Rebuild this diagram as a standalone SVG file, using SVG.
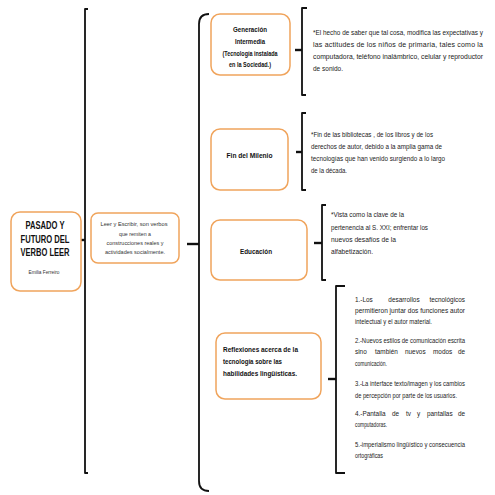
<svg xmlns="http://www.w3.org/2000/svg" width="495" height="495" viewBox="0 0 495 495">
<style>
.box{fill:#fff;stroke:#F0A45C;stroke-width:1.5}
.br{fill:none;stroke:#111;stroke-width:1.8;stroke-linejoin:round}
.tk{fill:none;stroke:#111;stroke-width:2.4}
.hb{font-family:"Liberation Sans",Arial,sans-serif;font-weight:bold;fill:#111}
.bt{font-family:"Liberation Sans",Arial,sans-serif;fill:#222;font-size:7px}
.dt{font-family:"Liberation Sans",Arial,sans-serif;fill:#222;font-size:6.7px}
.wt{font-family:"Liberation Sans",Arial,sans-serif;fill:#222;font-size:6.4px}
.st{font-family:"Liberation Sans",Arial,sans-serif;fill:#333;font-size:6.2px}
.c{text-anchor:middle}
.e{text-anchor:end}
</style>
<rect width="495" height="495" fill="#fff"/>
<g id="connectors">
  <path class="br" d="M88,9 L85,9 L85,473 L88,473"/>
  <path class="tk" d="M80,240 L85,240"/>
  <path class="br" d="M209,14 Q199,14 199,24 L199,481 Q199,491 209,491"/>
  <path class="tk" d="M187,244 L199,244"/>
  <path class="br" d="M307,8 L302,8 L302,95 L306,95"/>
  <path class="tk" d="M295,50 L302,50"/>
  <path class="br" d="M306,113 L302,113 L302,190 L306,190"/>
  <path class="tk" d="M296,152 L302,152"/>
  <path class="br" d="M326,205 L322,205 L322,280 L326,280"/>
  <path class="tk" d="M314,243 L322,243"/>
  <path class="br" d="M345,286 L336,286 L336,473 L345,473"/>
  <path class="tk" d="M328,379 L336,379"/>
</g>
<g id="n-main">
  <rect class="box" x="11" y="212" width="70" height="79" rx="9"/>
  <text class="hb c" font-size="10" x="45" y="229" textLength="39" lengthAdjust="spacingAndGlyphs">PASADO Y</text>
  <text class="hb c" font-size="10" x="45" y="242.5" textLength="49" lengthAdjust="spacingAndGlyphs">FUTURO DEL</text>
  <text class="hb c" font-size="10" x="45" y="256" textLength="49" lengthAdjust="spacingAndGlyphs">VERBO LEER</text>
  <text class="st c" font-size="5.6" x="44" y="274" textLength="31" lengthAdjust="spacingAndGlyphs">Emilia Ferreiro</text>
</g>
<g id="n-leer">
  <rect class="box" x="91" y="213" width="88" height="50" rx="7"/>
  <text class="st c" x="134" y="226" textLength="67" lengthAdjust="spacingAndGlyphs">Leer y Escribir, son verbos</text>
  <text class="st c" x="135" y="235.5" textLength="32" lengthAdjust="spacingAndGlyphs">que remiten a</text>
  <text class="st c" x="135" y="244.5" textLength="57" lengthAdjust="spacingAndGlyphs">construcciones reales y</text>
  <text class="st c" x="135" y="254" textLength="60" lengthAdjust="spacingAndGlyphs">actividades socialmente.</text>
</g>
<g id="n-generacion">
  <rect class="box" x="211" y="14" width="79" height="61" rx="9"/>
  <text class="hb c" font-size="7.5" x="250" y="31.5" textLength="34" lengthAdjust="spacingAndGlyphs">Generación</text>
  <text class="hb c" font-size="7.5" x="250" y="43.5" textLength="30" lengthAdjust="spacingAndGlyphs">Intermedia</text>
  <text class="hb c" font-size="7.5" x="250" y="55.5" textLength="55" lengthAdjust="spacingAndGlyphs">(Tecnología instalada</text>
  <text class="hb c" font-size="7.5" x="250" y="67" textLength="42" lengthAdjust="spacingAndGlyphs">en la Sociedad.)</text>
</g>
<g id="t-generacion">
  <text class="bt" font-size="6.6" x="313" y="35" textLength="170" lengthAdjust="spacingAndGlyphs">*El hecho de saber que tal cosa, modifica las expectativas y</text>
  <text class="bt" x="313" y="47" textLength="170" lengthAdjust="spacing">las actitudes de los niños de primaria, tales como la</text>
  <text class="bt" x="313" y="59" textLength="170" lengthAdjust="spacingAndGlyphs">computadora, teléfono inalámbrico, celular y reproductor</text>
  <text class="bt" x="313" y="71" textLength="30" lengthAdjust="spacingAndGlyphs">de sonido.</text>
</g>
<g id="n-milenio">
  <rect class="box" x="211" y="129" width="77" height="61" rx="9"/>
  <text class="hb c" font-size="7.5" x="249.5" y="157.5" textLength="46" lengthAdjust="spacingAndGlyphs">Fin del Milenio</text>
</g>
<g id="t-milenio">
  <text class="bt" x="311" y="137" textLength="122" lengthAdjust="spacingAndGlyphs">*Fin de las bibliotecas , de los libros y de los</text>
  <text class="bt" x="311" y="149" textLength="131" lengthAdjust="spacingAndGlyphs">derechos de autor, debido a la amplia gama de</text>
  <text class="bt" x="311" y="161" textLength="134" lengthAdjust="spacingAndGlyphs">tecnologías que han venido surgiendo a lo largo</text>
  <text class="bt" x="311" y="173" textLength="36" lengthAdjust="spacingAndGlyphs">de la década.</text>
</g>
<g id="n-educacion">
  <rect class="box" x="211" y="220" width="96" height="60" rx="9"/>
  <text class="hb c" font-size="7.5" x="256" y="254" textLength="32" lengthAdjust="spacingAndGlyphs">Educación</text>
</g>
<g id="t-educacion">
  <text class="bt" x="331" y="217" textLength="73" lengthAdjust="spacingAndGlyphs">*Vista como la clave de la</text>
  <text class="bt" x="331" y="229.5" textLength="97" lengthAdjust="spacingAndGlyphs">pertenencia al S. XXI; enfrentar los</text>
  <text class="bt" x="331" y="242" textLength="65" lengthAdjust="spacingAndGlyphs">nuevos desafíos de la</text>
  <text class="bt" x="331" y="254" textLength="42" lengthAdjust="spacingAndGlyphs">alfabetización.</text>
</g>
<g id="n-reflexiones">
  <rect class="box" x="216" y="333" width="105" height="66" rx="9"/>
  <text class="hb" font-size="7.5" x="223" y="352" textLength="75" lengthAdjust="spacingAndGlyphs">Reflexiones acerca de la</text>
  <text class="hb" font-size="7.5" x="223" y="364" textLength="59" lengthAdjust="spacingAndGlyphs">tecnología sobre las</text>
  <text class="hb" font-size="7.5" x="223" y="376" textLength="74" lengthAdjust="spacingAndGlyphs">habilidades lingüísticas.</text>
</g>
<g id="t-reflexiones">
  <text class="wt" x="355" y="302">1.-Los</text>
  <text class="wt c" x="404" y="302">desarrollos</text>
  <text class="wt e" x="465" y="302">tecnológicos</text>
  <text class="dt" x="355" y="313" textLength="110" lengthAdjust="spacingAndGlyphs">permitieron juntar dos funciones autor</text>
  <text class="dt" x="355" y="324" textLength="77" lengthAdjust="spacingAndGlyphs">intelectual y el autor material.</text>
  <text class="dt" x="355" y="343" textLength="110" lengthAdjust="spacingAndGlyphs">2.-Nuevos estilos de comunicación escrita</text>
  <text class="wt" x="355" y="354">sino</text>
  <text class="wt" x="375" y="354">también</text>
  <text class="wt" x="405" y="354">nuevos</text>
  <text class="wt" x="433" y="354">modos</text>
  <text class="wt e" x="465" y="354">de</text>
  <text class="dt" x="355" y="366" textLength="32" lengthAdjust="spacingAndGlyphs">comunicación.</text>
  <text class="dt" x="355" y="386" textLength="110" lengthAdjust="spacingAndGlyphs">3.-La interface texto/imagen y los cambios</text>
  <text class="dt" x="355" y="398" textLength="102" lengthAdjust="spacingAndGlyphs">de percepción por parte de los usuarios.</text>
  <text class="wt" x="355" y="416">4.-Pantalla</text>
  <text class="wt" x="392" y="416">de</text>
  <text class="wt" x="406" y="416">tv</text>
  <text class="wt" x="417" y="416">y</text>
  <text class="wt" x="427" y="416">pantallas</text>
  <text class="wt e" x="465" y="416">de</text>
  <text class="dt" x="355" y="427" textLength="32" lengthAdjust="spacingAndGlyphs">computadoras.</text>
  <text class="dt" x="355" y="447" textLength="110" lengthAdjust="spacingAndGlyphs">5.-imperialismo lingüístico y consecuencia</text>
  <text class="dt" x="355" y="458" textLength="28" lengthAdjust="spacingAndGlyphs">ortográficas</text>
</g>
</svg>
